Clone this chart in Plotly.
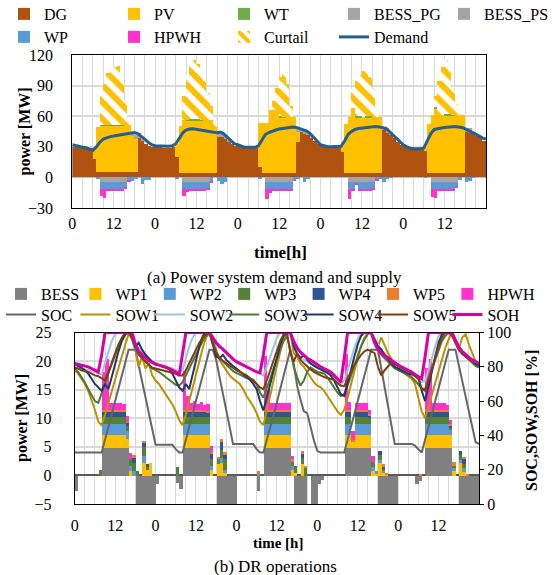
import plotly.graph_objects as go

# ---------------------------------------------------------------- time base
HOURS = 120
bar_x = [h + 0.5 for h in range(HOURS)]        # hourly blocks [h, h+1)
line_x = list(range(HOURS + 1))                # hourly states incl. end point
tick_vals = list(range(0, HOURS, 12))
tick_text = ["0" if v % 24 == 0 else "12" for v in tick_vals]

# ------------------------------------------------- (a) power system [MW]
demand = [
    32, 31, 30, 29.5, 29, 28, 26.5, 30, 34.5, 37.5, 39, 40, 40.5, 41, 41.5, 42, 42.5, 43.5, 44, 43, 40.5, 37.5, 34.5, 32,
    31, 30.7, 30.5, 30.5, 30.5, 31, 33, 38, 43.5, 46.5, 47.5, 47.7, 47, 46.5, 45.8, 45.2, 44.8, 44.2, 43.8, 44.5, 42.5, 39, 35.5, 33,
    32, 30.5, 29.5, 29.5, 29.5, 29.5, 31, 37, 42, 44, 45.5, 46.5, 47.5, 48, 48.5, 49, 49.5, 49, 48, 47, 45.5, 43, 39, 35,
    32, 31, 30, 30, 30, 30, 30.5, 36, 42, 45, 47, 48, 48.5, 49, 49.5, 50, 50, 49.5, 49, 48, 45, 41.5, 38, 34.5,
    32, 30, 28.5, 28, 28, 28, 29, 36, 43, 47, 48, 48.5, 49, 49.5, 49.5, 50, 49.5, 49, 47.5, 46, 44.5, 42.5, 40.5, 38.5,
    37.5,
]
dg = [
    30, 29.5, 29.5, 29, 29, 28.5, 18, 5, 5, 5, 5, 5, 5, 5, 5, 5, 5, 5, 5, 38.5, 35.5, 32.5, 30.5, 29.5,
    30, 29.5, 29, 29, 29, 29.5, 20, 4.5, 4.5, 4.5, 4.5, 4.5, 4.5, 4.5, 4.5, 4.5, 4.5, 4.5, 40, 40, 38, 35, 32.5, 31,
    31, 30, 29.5, 29, 29, 29, 10, 4.5, 4.5, 4.5, 4.5, 4.5, 4.5, 4.5, 4.5, 4.5, 4.5, 35, 45, 43, 41.5, 39, 36, 33,
    32, 30.5, 30, 30, 30, 30, 25, 4.5, 4.5, 4.5, 4.5, 4.5, 4.5, 4.5, 4.5, 4.5, 4.5, 4.5, 46, 44, 42, 38.5, 35, 32,
    31, 29, 28, 28, 28, 28, 26, 4.5, 4.5, 4.5, 4.5, 4.5, 4.5, 4.5, 4.5, 4.5, 4.5, 4.5, 45, 44, 42.5, 40.5, 38.5, 36,
]
pv = [
    0, 0, 0, 0, 0, 0, 12, 44, 46, 46, 46, 46, 46, 46, 46, 46, 46, 36, 33, 0, 0, 0, 0, 0,
    0, 0, 0, 0, 0, 0, 13, 46, 51.5, 51.5, 51.5, 51.5, 51.5, 51.5, 51.5, 51.5, 51.5, 45, 0, 0, 0, 0, 0, 0,
    0, 0, 0, 0, 0, 0, 43, 48.5, 48.5, 61.5, 61.5, 61.5, 54.5, 54.5, 54.5, 54.5, 54.5, 10, 0, 0, 0, 0, 0, 0,
    0, 0, 0, 0, 0, 0, 6, 48, 54.5, 63.5, 54.5, 54.5, 54.5, 54.5, 54.5, 54.5, 54.5, 54.5, 0, 0, 0, 0, 0, 0,
    0, 0, 0, 0, 0, 0, 4, 48, 56.5, 63.5, 56.5, 56.5, 56.5, 56.5, 56.5, 56.5, 56.5, 56.5, 0, 0, 0, 0, 0, 0,
]
wt = [
    0, 0, 0, 0, 0, 0, 0, 0, 0.8, 0.5, 0.6, 0.8, 0.8, 0.6, 0.5, 0, 0, 0, 0, 0, 0, 0, 0, 0,
    0, 0, 0, 0, 0, 0, 0, 0, 0, 0.5, 1.2, 1.2, 0.8, 0.4, 0, 0, 0, 0, 0, 0, 0, 0, 0, 0,
    0, 0, 0, 0, 0, 0, 0, 0, 0, 0, 0, 0, 0.8, 0.5, 0, 0, 0, 0, 0, 0, 0, 0, 0, 0,
    0, 0, 0, 0, 0, 0, 0, 0, 0, 0, 1.5, 1.2, 0, 1.0, 1.5, 0, 0, 0, 0, 0, 0, 0, 0, 0,
    0, 0, 0, 0, 0, 0, 0, 0, 0, 0.8, 0, 0, 0.8, 1.0, 0.6, 0, 0, 0, 0, 0, 0, 0, 0, 0,
]
bess_pg = [
    0, 0, 0, 0, 0, 0, 0, 0, 0, 0, 0, 0, 0, 0, 0, 0, 0, 2, 4, 5, 2, 0, 0, 0,
    0, 0, 0, 0, 0, 0, 0, 0, 0, 0, 0, 0, 0, 0, 0, 0, 0, 0, 4, 5, 4, 2, 0, 0,
    0, 0, 0, 0, 0, 0, 0, 0, 0, 0, 0, 0, 0, 0, 0, 0, 0, 3, 3, 4, 3, 2, 0, 0,
    0, 0, 0, 0, 0, 0, 0, 0, 0, 0, 0, 0, 0, 0, 0, 0, 0, 0, 3, 4, 3, 0, 0, 0,
    0, 0, 0, 0, 0, 0, 0, 0, 0, 0, 0, 0, 0, 0, 0, 0, 0, 0, 3, 4, 2, 0, 0, 0,
]
curtail = [
    0, 0, 0, 0, 0, 0, 0, 0, 29, 40.5, 50.5, 53, 56, 57.5, 45.5, 24, 4, 0, 0, 0, 0, 0, 0, 0,
    0, 0, 0, 0, 0, 0, 0, 0, 24, 43.5, 54.8, 57.8, 54.2, 47.6, 39, 27, 14, 8.5, 0, 0, 0, 0, 0, 0,
    0, 0, 0, 0, 0, 0, 0, 0, 0, 0, 9, 22, 38.2, 44.5, 33, 11, 0, 0, 0, 0, 0, 0, 0, 0,
    0, 0, 0, 0, 0, 0, 0, 0, 0, 19, 34.5, 39.8, 45, 47, 37.5, 28, 6, 0, 0, 0, 0, 0, 0, 0,
    0, 0, 0, 0, 0, 0, 0, 0, 0, 11.2, 34, 47, 53.2, 43, 23.4, 11, 2, 0, 0, 0, 0, 0, 0, 0,
]

# ------------------------------------------------ (b) DR operations [MW]
bess = [
    -2.7, 0, 0, 0, 0, 0, 0, 0, 4.9, 4.9, 4.9, 4.9, 4.9, 4.9, 4.9, 4.9, 0, 0, -5, -5, -5, -5, -5, -5,
    -1.5, 0, 0, 0, 0, 0, -1.3, -2.3, 4.9, 4.9, 4.9, 4.9, 4.9, 4.9, 4.9, 4.9, 0, 0, -5, -5, -5, -5, -5, -5,
    0, 0, 0, 0, 0, 0, -2.7, 0, 4.9, 4.9, 4.9, 4.9, 4.9, 4.9, 4.9, 4.9, 0, -5, -5, -5, -5, 0, -5, -5,
    -1.5, -0.8, 0, 0, 0, 0, 0, 0, 4.9, 4.9, 4.9, 4.9, 4.9, 4.9, 4.9, 4.9, 0, 0, -5, -5, -5, -5, -5, -5,
    0, 0, 0, 0, 0, -1.4, -0.9, 0, 4.9, 4.9, 4.9, 4.9, 4.9, 4.9, 4.9, 4.9, 0, 0, -5, -5, -5, -5, -5, -5,
]
wp1 = [
    0, 0, 0, 0, 0, 0, 0, 0, 2.3, 2.3, 2.3, 2.3, 2.3, 2.3, 2.3, 1.5, 0.9, 0, 0, 0, 2.3, 1.0, 2.2, 0,
    0, 0, 0, 0, 0, 0, 0, 0, 2.3, 2.3, 2.3, 2.3, 2.3, 2.3, 2.3, 2.3, 1.0, 0, 2.0, 2.3, 0.5, 0, 0, 0,
    0, 0, 0, 0, 0, 0, 0, 0, 2.3, 2.3, 2.3, 2.3, 2.3, 2.3, 2.3, 2.3, 1.0, 0.5, 0, 2.0, 0, 0, 0, 0,
    0, 0, 0, 0, 0, 0, 0, 0, 2.3, 2.3, 1.2, 2.3, 2.3, 2.3, 2.3, 2.3, 0.8, 0.5, 2.3, 0.6, 0.2, 0, 0, 0,
    0, 0, 0, 0, 0, 0, 0, 0, 2.3, 2.3, 2.3, 2.3, 2.3, 2.3, 2.3, 2.3, 0.9, 0, 2.3, 0.7, 0, 0, 0, 0,
]
wp2 = [
    0, 0, 0, 0, 0, 0, 0, 0, 1.8, 1.8, 1.8, 1.8, 1.8, 1.8, 1.8, 1.5, 0.8, 0.8, 0, 0, 1.2, 0, 0, 0,
    0, 0, 0, 0, 0, 0, 0, 0, 1.8, 1.8, 1.8, 1.8, 1.8, 1.8, 1.8, 1.8, 0.8, 0, 0, 0.8, 0.5, 0, 0, 0,
    0, 0, 0, 0, 0, 0, 0.5, 0, 1.8, 1.8, 1.8, 1.8, 1.8, 1.8, 1.8, 1.8, 0.8, 0, 0, 0, 0, 0, 0, 0,
    0, 0, 0, 0, 0, 0, 0, 0, 1.8, 1.8, 0, 1.8, 1.8, 1.8, 1.8, 1.8, 0.8, 0.3, 0.5, 0.3, 0, 0, 0, 0,
    0, 0, 0, 0, 0, 0, 0, 0, 1.8, 1.8, 1.8, 1.8, 1.8, 1.8, 1.8, 0.8, 0.5, 0, 0.5, 0.6, 0, 0, 0, 0,
]
wp3 = [
    0, 0, 0, 0, 0, 0, 0, 1.1, 1.3, 1.3, 1.3, 1.3, 1.3, 1.3, 1.3, 0.8, 1.3, 1.5, 0.8, 0, 1.5, 0.6, 0, 0,
    0, 0, 0, 0, 0, 0, 1.5, 0, 1.3, 1.3, 1.3, 1.3, 1.3, 1.3, 1.3, 1.3, 1.2, 0, 1.0, 1.5, 2.0, 0, 0, 0,
    0, 0, 0, 0, 0, 0, 0, 0, 1.3, 1.3, 1.3, 1.3, 1.3, 1.3, 1.3, 1.3, 0.8, 1.3, 0, 1.2, 1.5, 0, 0, 0,
    0, 0, 0, 0, 0, 0, 0, 0, 1.3, 1.3, 0, 1.3, 1.3, 1.3, 1.3, 1.2, 0.8, 0, 0.8, 0.3, 0, 0, 0, 0,
    0, 0, 0, 0, 0, 0, 0, 0, 1.3, 1.3, 1.3, 1.3, 1.3, 1.3, 1.3, 0.5, 0.4, 0, 0.8, 0.8, 0, 0, 0, 0,
]
wp4 = [
    0, 0, 0, 0, 0, 0, 0, 0, 1.0, 1.0, 1.0, 1.0, 1.0, 1.0, 1.0, 0.6, 0, 1.0, 0, 0, 0.9, 0.5, 0, 0,
    0, 0, 0, 0, 0, 0, 0, 0, 1.0, 1.0, 1.0, 1.0, 1.0, 1.0, 1.0, 0.8, 0.9, 0, 0, 1.5, 0.8, 0, 0, 0,
    0, 0, 0, 0, 0, 0, 0, 0, 1.0, 1.0, 1.0, 1.0, 1.0, 1.0, 1.0, 1.0, 0, 0, 0, 0.8, 0, 0, 0, 0,
    0, 0, 0, 0, 0, 0, 0, 0, 1.0, 1.0, 0, 1.0, 1.0, 1.0, 1.0, 0.4, 0, 0, 0.8, 0.5, 0, 0, 0, 0,
    0, 0, 0, 0, 0, 0, 0, 0, 1.0, 1.0, 1.0, 1.0, 1.0, 1.0, 1.0, 0.3, 0, 0, 0.8, 0.9, 0, 0, 0, 0,
]
wp5 = [
    0, 0, 0, 0, 0, 0, 0, 0, 0.2, 0.2, 0.2, 0.2, 0.2, 0.2, 0.2, 0.2, 0, 0.3, 0, 0, 0.2, 0, 0, 0,
    0, 0, 0, 0, 0, 0, 0, 0, 0.2, 0.2, 0.2, 0.2, 0.2, 0.2, 0.2, 0.2, 0.2, 0, 0.3, 0.3, 0.3, 0, 0, 0,
    0, 0, 0, 0, 0, 0, 0.3, 0, 0.2, 0.2, 0.2, 0.2, 0.2, 0.2, 0.2, 0.2, 0.3, 0, 0, 0.3, 0.3, 0, 0, 0,
    0, 0, 0, 0, 0, 0, 0, 0, 0.2, 0.2, 0.2, 0.2, 0.2, 0.2, 0.2, 0.2, 0, 0, 0, 0.3, 0.3, 0, 0, 0,
    0, 0, 0, 0, 0, 0, 0.3, 0, 0.2, 0.2, 0.2, 0.2, 0.2, 0.2, 0.2, 0.2, 0.6, 0, 0, 0.2, 0.3, 0, 0, 0,
]
hpwh = [
    0, 0, 0, 0, 0, 0, 0, 0, 6.6, 8.9, 1.2, 1.2, 1.2, 1.2, 1.0, 1.0, 1.0, 0, 0, 0, 0, 0, 0, 0,
    0, 0, 0, 0, 0, 0, 0, 0, 6.8, 2.5, 1.3, 1.6, 1.0, 1.4, 0.9, 1.2, 1.2, 0, 0, 0, 0, 0, 0, 0,
    0, 0, 0, 0, 0, 0, 0, 0, 9.5, 3.5, 1.3, 1.3, 1.3, 1.3, 1.3, 1.2, 0.6, 0, 0, 0, 0, 0, 0, 0,
    0, 0, 0, 0, 0, 0, 0, 0, 9.9, 1.5, 1.5, 1.2, 1.2, 1.2, 1.2, 0.8, 1.0, 0, 0, 0, 0, 0, 0, 0,
    0, 0, 0, 0, 0, 0, 0, 0, 7.4, 8.9, 1.2, 1.2, 1.2, 1.2, 0.9, 0.8, 0, 0, 0, 0, 0, 0, 0, 0,
]

# ------------------------------------------------------ states of charge [%]
soc = [
    30, 30, 30, 30, 30, 30, 30, 30, 30, 37.5, 45, 52.5, 60, 67.5, 75, 82.5, 90, 90, 90, 80.8, 71.5, 62.3, 53, 43.8,
    34.5, 34.5, 34.5, 34.5, 34.5, 34.5, 32, 30, 30, 37.5, 45, 52.5, 60, 67.5, 75, 82.5, 90, 90, 84, 74, 64, 54, 44, 35,
    35, 35, 35, 35, 35, 35, 32, 30, 30, 37, 44, 51, 59, 67, 75, 83, 90, 82, 69, 61, 54, 53, 45, 37,
    31, 30, 30, 30, 30, 30, 30, 30, 30, 37.5, 45, 52.5, 60, 67.5, 75, 82.5, 90, 90, 90, 79, 68, 57, 46, 35,
    35, 35, 35, 35, 35, 34, 32, 30, 37.5, 45, 52.5, 60, 67.5, 75, 82.5, 90, 90, 90, 81, 72, 63, 54, 45, 36,
    35,
]
sow1 = [
    78, 76, 73, 70, 66, 61, 55, 48, 46, 52, 59, 66, 73, 80, 87, 93, 99, 100, 90, 80, 86, 79, 82, 75,
    72, 70, 67, 64, 61, 58, 54, 49, 46, 52, 60, 68, 76, 84, 91, 97, 100, 95, 89, 84, 81, 78, 75, 73,
    71.5, 70, 67, 63, 60, 57, 53, 48, 46, 54, 63, 72, 81, 90, 97, 100, 100, 88, 86, 82, 80, 77, 74, 71,
    69, 68, 66, 63, 60, 57, 54, 52, 55, 62, 70, 78, 85, 92, 97, 100, 100, 95, 92, 97, 92, 88, 84.5, 81,
    79, 77.5, 76, 74.5, 73, 70, 62, 54, 50, 57, 64, 71, 78, 85, 91, 96, 100, 94, 90, 97, 99, 93, 88, 83,
    81,
]
sow2 = [
    80, 79.5, 79, 78.5, 78, 77.5, 77, 76, 75.5, 82, 89, 95, 99, 100, 100, 100, 100, 98, 94, 91, 89, 87, 85, 83,
    82, 81, 80.5, 80, 79.5, 79, 78, 77, 78, 85, 92, 97, 100, 100, 100, 100, 100, 96, 92, 91, 91, 89, 87, 85,
    83, 82, 81, 80, 79, 78, 77, 76, 75, 80, 86, 92, 97, 100, 100, 100, 98, 92, 88, 85.5, 84, 83, 82, 80.5,
    79.5, 78.5, 77.5, 76.5, 75.5, 73, 71, 70, 72, 78, 85, 91, 96, 100, 100, 100, 100, 97, 93, 90, 87, 85, 83, 81,
    80, 79, 78, 77, 76, 75, 73, 71, 72, 78, 85, 92, 98, 100, 100, 100, 100, 96, 92, 89, 87, 85, 83, 81.5,
    80.5,
]
sow3 = [
    79, 77, 74, 71, 67, 63, 60, 59, 64, 70, 76, 82, 87, 92, 96, 99, 100, 96, 90, 87, 85, 83, 81, 79,
    78, 77, 75.5, 74, 72.5, 71, 69.5, 69, 71, 75, 79, 83, 87, 91, 95, 98, 100, 95, 89, 85, 83, 81, 79, 77.5,
    76.5, 75.5, 74.5, 73.5, 73, 72.5, 70, 65, 62, 67, 73, 79, 85, 90, 95, 98, 90, 80, 74, 69, 72, 77, 79.5, 78,
    77, 76.5, 76, 74, 71, 68, 65, 63, 64, 69, 75, 81, 87, 92, 96, 99, 100, 95, 90, 87, 85, 83, 81, 79,
    78, 77, 76, 75, 74, 72, 70, 67.5, 67, 72, 78, 84, 90, 95, 98, 100, 100, 96, 91, 88, 86, 84, 82, 80.5,
    79.5,
]
sow4 = [
    81.5, 80.5, 79.5, 78, 76, 73, 70, 68, 66, 70, 67, 74, 82, 89, 95, 99, 100, 99, 92, 94, 90, 87, 85, 83,
    82, 81, 80, 79.5, 78.5, 76, 72, 68, 66, 70, 67, 75, 84, 92, 98, 100, 100, 93, 86, 85, 87, 84, 82, 80.5,
    79, 77.5, 76, 74.5, 72.5, 70, 67, 60, 54.5, 62, 70, 78, 86, 93, 98, 100, 100, 92, 87.5, 85, 87, 84, 82, 80.5,
    79.5, 78.5, 77.5, 76.5, 75, 72, 68, 64, 63, 70, 78, 86, 93, 98, 100, 100, 100, 96, 92, 90, 87, 84.5, 82, 80,
    79, 78, 77, 76, 75.5, 75, 74, 66, 60, 68, 77, 86, 94, 99, 100, 100, 100, 96, 92, 89, 87, 85, 83, 81.5,
    80.5,
]
sow5 = [
    79.5, 79, 78, 77.5, 77, 76, 75, 74.5, 73, 72, 77, 83, 88, 93, 97, 100, 100, 97, 92, 88, 85, 83, 81, 79.5,
    79, 78.5, 78, 77.5, 77, 76.5, 76, 75, 75, 78, 82, 86, 90, 94, 97, 99, 100, 93, 88, 85, 83.5, 82, 80.5, 79,
    78, 77, 76, 75, 73.5, 72, 70, 68, 67, 72, 78, 84, 90, 95, 99, 100, 88, 83, 88, 84, 82, 80, 78.5, 77,
    76, 75, 74, 73.5, 73, 72.5, 70.5, 69, 68.8, 73, 77, 81, 84, 87, 89, 90, 89, 88, 80, 75, 78, 80.5, 82.5, 81.5,
    80.5, 79.5, 78.5, 77.5, 76, 74.5, 73, 67, 66, 72, 79, 86, 92, 97, 100, 100, 98, 94, 90, 87.5, 86, 84.5, 83, 82.5,
    82,
]
soh = [
    82, 81.5, 81, 80.5, 80, 79, 78, 77, 87, 100, 100, 100, 100, 100, 100, 100, 100, 100, 93, 89, 87, 85, 83.5, 82.5,
    81.5, 81, 80.5, 80, 79, 78, 77, 75, 88, 100, 100, 100, 100, 100, 100, 100, 100, 97, 94, 92, 90, 88, 86, 84.5,
    83, 82, 81, 80, 79, 78, 77, 76.5, 87, 100, 100, 100, 100, 100, 100, 100, 100, 95, 91, 88.5, 86.5, 85, 84, 82.5,
    81.5, 80, 79, 78, 77, 75, 73, 71, 85, 100, 100, 100, 100, 100, 100, 100, 100, 94, 90, 88, 86.5, 85, 83.5, 82,
    81, 80, 79, 78, 77, 75.5, 74, 73, 86, 100, 100, 100, 100, 100, 100, 100, 100, 95, 91, 89, 87, 85.5, 84, 83,
    82,
]

# flexible loads seen from the power system (drawn below zero)
bess_ps = [-max(v, 0) for v in bess]
wp_load = [-(a + b + c + d + e) for a, b, c, d, e in zip(wp1, wp2, wp3, wp4, wp5)]
hpwh_load = [-v for v in hpwh]

# ------------------------------------------------------------------ styling
FONT = "Liberation Serif"
GRID = "#D9D9D9"
W, H = 555, 575


def px_x(p):
    return p / W


def px_y(p):
    return 1 - p / H


fig = go.Figure()


def add_bar(y, name, color, axes, legend, pattern=None, legendwidth=None):
    marker = dict(color=color, line=dict(width=0))
    if pattern:
        marker["pattern"] = pattern
    fig.add_trace(go.Bar(
        x=bar_x, y=y, width=1, name=name, marker=marker,
        xaxis=axes[0], yaxis=axes[1], legend=legend, hoverinfo="skip",
        legendwidth=legendwidth,
    ))


def add_line(y, name, color, width, axes, legend, legendwidth=None):
    fig.add_trace(go.Scatter(
        x=line_x, y=y, mode="lines", name=name,
        line=dict(color=color, width=width),
        xaxis=axes[0], yaxis=axes[1], legend=legend, hoverinfo="skip",
        legendwidth=legendwidth,
    ))


top = ("x", "y")
add_bar(dg, "DG", "#B0520F", top, "legend")
add_bar(pv, "PV", "#FFC000", top, "legend")
add_bar(wt, "WT", "#70AD47", top, "legend")
add_bar(bess_pg, "BESS_PG", "#A5A5A5", top, "legend")
add_bar(bess_ps, "BESS_PS", "#A5A5A5", top, "legend")
add_bar(wp_load, "WP", "#5B9BD5", top, "legend2")
add_bar(hpwh_load, "HPWH", "#FF33CC", top, "legend2")
add_bar(curtail, "Curtail", "white", top, "legend2",
        pattern=dict(shape="\\", fgcolor="#FFC000", bgcolor="white",
                     size=12, solidity=0.5))
add_line(demand, "Demand", "#255E91", 3, top, "legend2")

bot = ("x2", "y2")
add_bar(bess, "BESS", "#808080", bot, "legend3")
add_bar(wp1, "WP1", "#FFC000", bot, "legend3")
add_bar(wp2, "WP2", "#5B9BD5", bot, "legend3")
add_bar(wp3, "WP3", "#548235", bot, "legend3")
add_bar(wp4, "WP4", "#2F5597", bot, "legend3")
add_bar(wp5, "WP5", "#ED7D31", bot, "legend3")
add_bar(hpwh, "HPWH", "#FF33CC", bot, "legend3", legendwidth=55)

rgt = ("x2", "y3")
add_line(soc, "SOC", "#666666", 2, rgt, "legend4")
add_line(sow1, "SOW1", "#BF9000", 2, rgt, "legend4")
add_line(sow2, "SOW2", "#9DC3E6", 2, rgt, "legend4")
add_line(sow3, "SOW3", "#4E7A31", 2, rgt, "legend4")
add_line(sow4, "SOW4", "#203864", 2, rgt, "legend4")
add_line(sow5, "SOW5", "#843C0C", 2, rgt, "legend4")
add_line(soh, "SOH", "#D600A8", 3, rgt, "legend4", legendwidth=45)

tick_font = dict(family=FONT, size=16, color="black")

x_common = dict(
    range=[0, HOURS], tickmode="array", tickvals=tick_vals, ticktext=tick_text,
    showgrid=True, gridcolor=GRID, gridwidth=1,
    minor=dict(tickmode="linear", tick0=0, dtick=3, showgrid=True,
               gridcolor=GRID, gridwidth=1),
    showline=True, linecolor="black", linewidth=1, mirror=True,
    ticks="", tickfont=tick_font, zeroline=False, automargin=False,
)


def legend_row(x_px, y_px, entry):
    return dict(
        x=px_x(x_px), y=px_y(y_px), xanchor="left", yanchor="middle",
        orientation="h", entrywidth=entry, entrywidthmode="pixels",
        itemwidth=30, bgcolor="rgba(0,0,0,0)", borderwidth=0,
        font=dict(family=FONT, size=16, color="black"),
        traceorder="normal", itemclick=False, itemdoubleclick=False,
    )


def label(text, x, y, size=16, angle=0):
    return dict(text=text, x=px_x(x), y=px_y(y), xref="paper", yref="paper",
                xanchor="center", yanchor="middle", showarrow=False,
                textangle=angle, font=dict(family=FONT, size=size, color="black"))


fig.update_layout(
    width=W, height=H, template="none",
    margin=dict(l=0, r=0, t=0, b=0, autoexpand=False),
    paper_bgcolor="white", plot_bgcolor="white",
    barmode="relative", bargap=0, showlegend=True,
    font=dict(family=FONT, size=16, color="black"),
    xaxis=dict(x_common, domain=[px_x(72.3), px_x(486)], anchor="y",
               ticklabelstandoff=1),
    yaxis=dict(
        domain=[px_y(208), px_y(55)], anchor="x", range=[-30, 120],
        tickmode="array", tickvals=[-30, 0, 30, 60, 90, 120],
        showgrid=True, gridcolor=GRID, gridwidth=1.5,
        zeroline=True, zerolinecolor="#BFBFBF", zerolinewidth=1.5,
        showline=True, linecolor="black", linewidth=1, mirror=True,
        ticks="", tickfont=tick_font, automargin=False, ticklabelstandoff=15,
    ),
    xaxis2=dict(x_common, domain=[px_x(74.7), px_x(479)], anchor="y2",
                ticklabelstandoff=7),
    yaxis2=dict(
        domain=[px_y(504), px_y(332.5)], anchor="x2", range=[-5, 25],
        tickmode="array", tickvals=[-5, 0, 5, 10, 15, 20, 25],
        showgrid=True, gridcolor=GRID, gridwidth=1.5,
        zeroline=True, zerolinecolor="#595959", zerolinewidth=1.5,
        showline=True, linecolor="black", linewidth=1, mirror=True,
        ticks="", tickfont=tick_font, automargin=False, ticklabelstandoff=19,
    ),
    yaxis3=dict(
        overlaying="y2", side="right", anchor="x2", range=[0, 100],
        tickmode="array", tickvals=[0, 20, 40, 60, 80, 100],
        showgrid=False, zeroline=False, showline=False,
        ticks="outside", ticklen=4, tickcolor="black", tickwidth=1,
        tickfont=tick_font, automargin=False,
    ),
    legend=legend_row(4, 14, 65),
    legend2=legend_row(4, 37, 65),
    legend3=legend_row(1, 294, 29.4),
    legend4=legend_row(1, 314.5, 29.4),
    annotations=[
        label("<b>power [MW]</b>", 24, 131.5, angle=-90),
        label("<b>time[h]</b>", 280, 252.6, size=17),
        label("(a) Power system demand and supply", 274, 277, size=17),
        label("<b>power [MW]</b>", 22, 418, angle=-90),
        label("<b>SOC,SOW,SOH [%]</b>", 531, 421, angle=-90),
        label("<b>time [h]</b>", 278, 543, size=15),
        label("(b) DR operations", 275, 566.5, size=17),
    ],
)

fig.write_html("out.html")
